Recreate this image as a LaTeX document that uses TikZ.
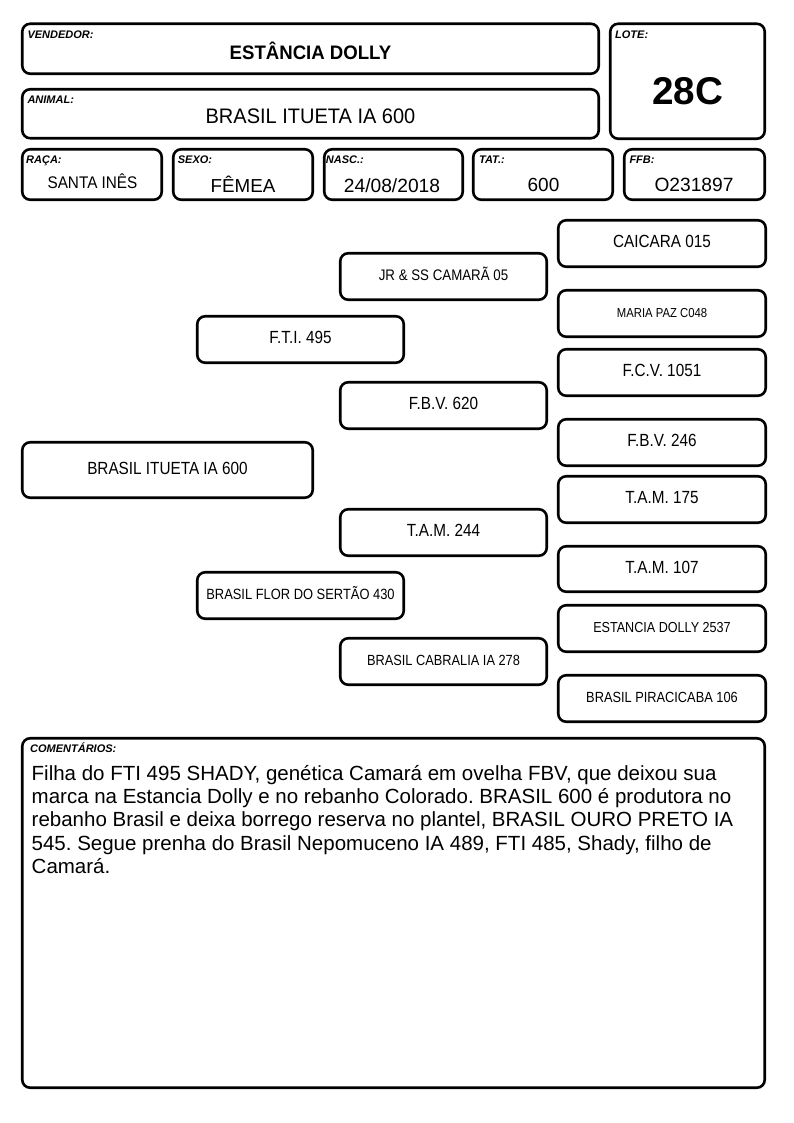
\documentclass[tikz,border=0pt]{standalone}
\usepackage{graphicx}
\usepackage{fontspec}
\setmainfont{Liberation Sans}
\frenchspacing
\newcommand\fs[1]{\fontsize{#1}{#1}\selectfont}
\newcommand\tall[1]{\scalebox{1}[1.15]{#1}}
\newcommand\bx[6]{\node[box, minimum width={#4-#2-2.5}, minimum height={#5-#3-2.5}, #6] (#1) at ({(#2+#4)/2},{(#3+#5)/2}) {};}
\newcommand\pb[7]{\node[box, pedtext, font=\fs{#7}, minimum width={#4-#2-2.5}, minimum height={#5-#3-2.5}] (#1) at ({(#2+#4)/2},{(#3+#5)/2}) {\tall{#6}};}
\begin{document}
\begin{tikzpicture}[x=1pt,y=-1pt,
  box/.style={draw=black, line width=2.6pt, rounded corners=8pt, inner sep=0pt, outer sep=0pt, fill=white},
  pedtext/.style={text height=0.823em, text depth=0pt, align=center},
  lbl/.style={anchor=base west, inner sep=0pt, font=\fs{11}\bfseries\itshape},
  val/.style={anchor=base, inner sep=0pt}]
\useasboundingbox (0,0) rectangle (794,1123);
\fill[white] (0,0) rectangle (794,1123);
% header boxes
\bx{vend}{21}{22.5}{600}{75}{}
\bx{anim}{21}{88}{600}{139.5}{}
\bx{lote}{609}{22.5}{766}{140}{}
\bx{raca}{21}{148}{163}{201}{}
\bx{sexo}{172}{148}{314}{201}{}
\bx{nasc}{323}{148}{464}{201}{}
\bx{tat}{472}{148}{614}{201}{}
\bx{ffb}{623}{148}{766}{201}{}
\bx{com}{21}{737}{766}{1089}{}
% header labels
\node[lbl] (vendL) at (27.3,39) {VENDEDOR:};
\node[lbl] (animL) at (27.3,103.3) {ANIMAL:};
\node[lbl] (loteL) at (615,39) {LOTE:};
\node[lbl] (racaL) at (26,163.3) {RAÇA:};
\node[lbl] (sexoL) at (177.7,163.3) {SEXO:};
\node[lbl] (nascL) at (325.7,163.3) {NASC.:};
\node[lbl] (tatL) at (479,163.3) {TAT.:};
\node[lbl] (ffbL) at (629.3,163.3) {FFB:};
\node[lbl] (comL) at (30,752.7) {COMENTÁRIOS:};
% header values
\node[val, font=\fs{18.6}\bfseries] (vendV) at (310.5,60) {\scalebox{1}[1.05]{ESTÂNCIA DOLLY}};
\node[val, font=\fs{20}] (animV) at (310.5,123.3) {\scalebox{1}[1.05]{BRASIL ITUETA IA 600}};
\node[val, font=\fs{38.7}\bfseries] (loteV) at (687.5,105) {28C};
\node[val, font=\fs{15.3}] (racaV) at (92.5,188.3) {\scalebox{1}[1.1]{SANTA INÊS}};
\node[val, font=\fs{18.8}] (sexoV) at (243,192.3) {FÊMEA};
\node[val, font=\fs{19.2}] (nascV) at (392,192.3) {24/08/2018};
\node[val, font=\fs{19}] (tatV) at (543.5,191.7) {600};
\node[val, font=\fs{19.2}] (ffbV) at (694,192) {O231897};
% pedigree
\pb{p0}{21}{441}{314}{499}{BRASIL ITUETA IA 600}{15.3}
\pb{p1}{196}{315}{405}{364}{F.T.I. 495}{15.3}
\pb{p2}{196}{571}{405}{620}{BRASIL FLOR DO SERTÃO 430}{12.9}
\pb{p11}{339}{252}{548}{301}{JR \& SS CAMARÃ 05}{13.3}
\pb{p12}{339}{381}{548}{430}{F.B.V. 620}{15.3}
\pb{p21}{339}{508}{548}{557}{T.A.M. 244}{15.3}
\pb{p22}{339}{637}{548}{686}{BRASIL CABRALIA IA 278}{12.8}
\pb{p111}{557}{219}{767}{268}{CAICARA 015}{15.3}
\pb{p112}{557}{289}{767}{338}{MARIA PAZ C048}{11.3}
\pb{p121}{557}{348}{767}{397}{F.C.V. 1051}{15.3}
\pb{p122}{557}{418}{767}{467}{F.B.V. 246}{15.3}
\pb{p211}{557}{475}{767}{524}{T.A.M. 175}{15.3}
\pb{p212}{557}{545}{767}{593}{T.A.M. 107}{15.3}
\pb{p221}{557}{604}{767}{653}{ESTANCIA DOLLY 2537}{12.6}
\pb{p222}{557}{674}{767}{723}{BRASIL PIRACICABA 106}{12.8}
% comments
\node[anchor=base west, inner sep=0pt] (comV) at (31.5,780) {\parbox[t]{730pt}{\fontsize{20.5}{23.4}\selectfont\raggedright
Filha do FTI 495 SHADY, genética Camará em ovelha FBV, que deixou sua\\
marca na Estancia Dolly e no rebanho Colorado. BRASIL 600 é produtora no\\
rebanho Brasil e deixa borrego reserva no plantel, BRASIL OURO PRETO IA\\
545. Segue prenha do Brasil Nepomuceno IA 489, FTI 485, Shady, filho de\\
Camará.}};
\end{tikzpicture}
\end{document}
